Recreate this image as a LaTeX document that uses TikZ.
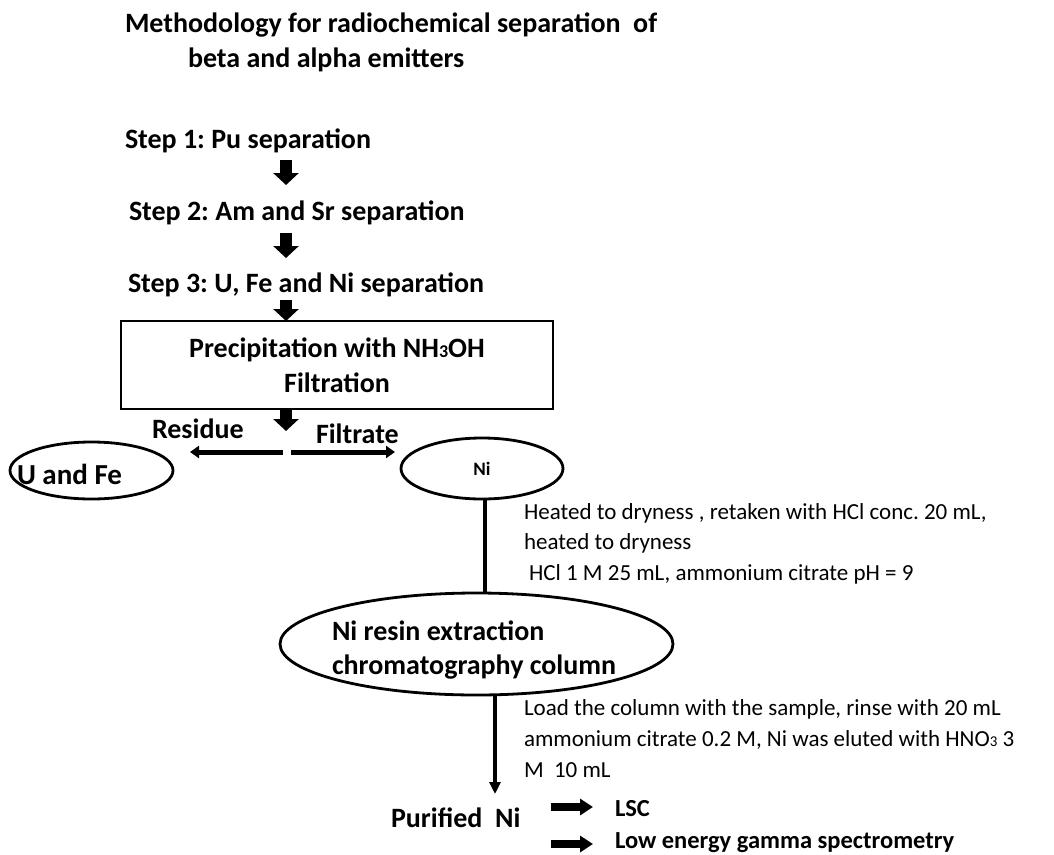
\documentclass[tikz,border=0pt]{standalone}
\usepackage{fontspec}
\setmainfont{Carlito}
\usetikzlibrary{arrows.meta,shapes.geometric}
\newcommand{\fsz}[2]{\fontsize{#1}{#2}\selectfont}
\frenchspacing
\begin{document}
\frenchspacing
\begin{tikzpicture}[x=1pt,y=-1pt,
  every node/.style={inner sep=0pt,outer sep=0pt},
  bt/.style={font=\bfseries\fsz{28}{35},anchor=base west,text height=20pt,text depth=6pt},
  rt/.style={font=\fsz{23}{30.5},anchor=base west,align=left},
  blk/.style={line width=12pt,-{Triangle[width=25pt,length=12pt]}},
  thinarr/.style={line width=5pt,-{Triangle[width=12pt,length=9pt]}},
  vline/.style={line width=4pt},
  varr/.style={line width=4pt,-{Triangle[width=11pt,length=12pt]}},
  harr/.style={line width=8pt,-{Triangle[width=16pt,length=13pt]}},
  oval/.style={draw,ellipse,line width=2.8pt},
]
\useasboundingbox (0,0) rectangle (1054,854);
% title
\node[bt] (t1) at (125,32) {Methodology for radiochemical separation\ \ of};
\node[bt] (t2) at (188,67) {beta and alpha emitters};
% steps
\node[bt] (s1) at (125,148) {Step 1: Pu separation};
\node[bt] (s2) at (129,220) {Step 2: Am and Sr separation};
\node[bt] (s3) at (128,292) {Step 3: U, Fe and Ni separation};
% box
\node[draw,line width=2.8pt,minimum width=432pt,minimum height=88pt,
      font=\bfseries\fsz{28}{35},align=center] (box) at (337,365)
      {Precipitation with NH{\fsz{18}{18}3}OH\\Filtration};
\coordinate (ax) at (286,0);
\draw[blk,shorten <=6pt,shorten >=15pt] (s1.south -| ax) -- (s2.north -| ax);
\draw[blk,shorten <=7pt,shorten >=14pt] (s2.south -| ax) -- (s3.north -| ax);
\draw[blk,shorten <=2pt] (s3.south -| ax) -- (box.north -| ax);
% split
\coordinate (sl) at (283,452);
\coordinate (sr) at (291,452);
\draw[blk,shorten >=21pt] (box.south -| ax) -- (ax |- sl);
\node[bt] (res) at (152,438) {Residue};
\node[bt] (fil) at (316,443) {Filtrate};
% ellipses
\node[oval,minimum width=163pt,minimum height=57pt] (ufe) at (91.5,470.5) {};
\node[bt,font=\bfseries\fsz{29}{35}] (ufet) at (17,484) {U and Fe};
\node[oval,minimum width=162pt,minimum height=61pt,font=\bfseries\fsz{19}{19}] (ni) at (482,468.5) {Ni};
\draw[thinarr,shorten >=17pt] (sl) -- (sl -| ufe.east);
\draw[thinarr,shorten >=6pt] (sr) -- (sr -| ni.west);
% column
\node[oval,minimum width=393pt,minimum height=102pt] (col) at (476.5,644) {};
\node[font=\bfseries\fsz{28}{34},align=left,anchor=base west] (colt) at (332,674)
      {Ni resin extraction\\chromatography column};
\coordinate (lx) at (485,0);
\draw[vline] (ni.south -| lx) -- (col.north -| lx);
\node[rt] (p1) at (524,580) {Heated to dryness , retaken with HCl conc. 20 mL,\\heated to dryness\\\hspace*{0.22em}HCl 1 M 25 mL, ammonium citrate pH = 9};
\node[rt,font=\fsz{23}{31}] (p2) at (524,777) {Load the column with the sample, rinse with 20 mL\\ammonium citrate 0.2 M, Ni was eluted with HNO{\fsz{15}{15}3} 3\\M\ \ 10 mL};
% bottom
\node[bt] (pur) at (391,827) {Purified\ \ Ni};
\node[bt,font=\bfseries\fsz{24.5}{30}] (lsc) at (615,816) {LSC};
\node[bt,font=\bfseries\fsz{24.5}{30}] (low) at (615,848) {Low energy gamma spectrometry};
\coordinate (cx) at (495,0);
\draw[varr,shorten >=13pt] (col.south -| cx) -- (pur.north -| cx);
\coordinate (h1) at (551,807);
\coordinate (h2) at (551,844);
\draw[harr,shorten >=22pt] (h1) -- (h1 -| lsc.west);
\draw[harr,shorten >=22pt] (h2) -- (h2 -| low.west);
\end{tikzpicture}
\end{document}
